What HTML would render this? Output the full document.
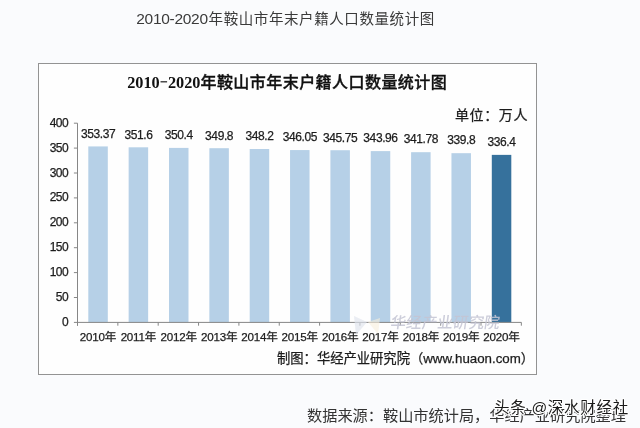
<!DOCTYPE html>
<html lang="zh-CN"><head><meta charset="utf-8"><title>2010-2020年鞍山市年末户籍人口数量统计图</title>
<style>
html,body{margin:0;padding:0;}
body{width:640px;height:428px;overflow:hidden;background:#fafbfd;position:relative;font-family:"Liberation Sans","Noto Sans CJK SC",sans-serif;}
svg{position:absolute;left:0;top:0;}
.yl{stroke:#1c1c1c;stroke-width:0.25px;letter-spacing:-0.6px;font:12px "Liberation Sans","Noto Sans CJK SC",sans-serif;fill:#1c1c1c;text-anchor:end;}
.vl{stroke:#1c1c1c;stroke-width:0.25px;letter-spacing:-0.4px;font:12px "Liberation Sans","Noto Sans CJK SC",sans-serif;fill:#1c1c1c;text-anchor:middle;}
.xl{stroke:#1c1c1c;stroke-width:0.25px;letter-spacing:-0.2px;font:11.6px "Liberation Sans","Noto Sans CJK SC",sans-serif;fill:#1c1c1c;text-anchor:middle;}
.ttc{font-size:14.5px;letter-spacing:0.58px;}
.ttd{font-size:15.5px;letter-spacing:-0.3px;}
.tt{font:15.1px "Liberation Sans","Noto Sans CJK SC",sans-serif;fill:#3a3a3a;}
.ct{font:bold 16.3px "Liberation Serif","Noto Serif CJK SC",serif;fill:#111;}
.ctc{font-family:"Noto Sans CJK SC",sans-serif;font-weight:500;stroke:#111;stroke-width:0.35px;font-size:16px;letter-spacing:0.45px;}
.un{stroke:#1c1c1c;stroke-width:0.25px;letter-spacing:0.6px;font:14px "Liberation Sans","Noto Sans CJK SC",sans-serif;fill:#1c1c1c;}
.srcl{}
.src{stroke:#1c1c1c;stroke-width:0.25px;font:13.3px "Liberation Sans","Noto Sans CJK SC",sans-serif;fill:#1c1c1c;}
.ds{font:15.2px "Liberation Sans","Noto Sans CJK SC",sans-serif;fill:#333;}
.wm{font:15.5px "Liberation Sans","Noto Sans CJK SC",sans-serif;fill:#1a1a1a;stroke:#fff;stroke-width:2.2px;stroke-linejoin:round;paint-order:stroke;letter-spacing:0.7px;}
.hj{font:15.5px "Liberation Sans","Noto Sans CJK SC",sans-serif;fill:#c4c5d4;opacity:0.85;letter-spacing:0.1px;font-weight:500;}
</style></head><body>
<svg width="640" height="428" viewBox="0 0 640 428">
<text y="24.4" class="tt"><tspan x="136.3" class="ttd">2010-2020</tspan><tspan x="208.6" class="ttc">年鞍山市年末户籍人口数量统计图</tspan></text>
<rect x="38.5" y="63.5" width="498" height="311" fill="#fefefe" stroke="#939393" stroke-width="1"/>
<text x="127.2" y="87.8" class="ct">2010<tspan style="font-family:IPAGothic,monospace;font-weight:400">-</tspan>2020<tspan class="ctc">年鞍山市年末户籍人口数量统计图</tspan></text>
<text x="455" y="120" class="un">单位：万人</text>
<rect x="88.30" y="146.42" width="19.5" height="175.98" fill="#b6d0e7"/>
<rect x="128.65" y="147.30" width="19.5" height="175.10" fill="#b6d0e7"/>
<rect x="169.00" y="147.90" width="19.5" height="174.50" fill="#b6d0e7"/>
<rect x="209.35" y="148.20" width="19.5" height="174.20" fill="#b6d0e7"/>
<rect x="249.70" y="149.00" width="19.5" height="173.40" fill="#b6d0e7"/>
<rect x="290.05" y="150.07" width="19.5" height="172.33" fill="#b6d0e7"/>
<rect x="330.40" y="150.22" width="19.5" height="172.18" fill="#b6d0e7"/>
<rect x="370.75" y="151.11" width="19.5" height="171.29" fill="#b6d0e7"/>
<rect x="411.10" y="152.19" width="19.5" height="170.21" fill="#b6d0e7"/>
<rect x="451.45" y="153.18" width="19.5" height="169.22" fill="#b6d0e7"/>
<rect x="491.80" y="154.87" width="19.5" height="167.53" fill="#36719c"/>
<path d="M77.5 123.20V325.70M77.0 322.4H521.4" stroke="#868686" stroke-width="1" fill="none"/>
<path d="M73.9 322.40H77.5M73.9 297.50H77.5M73.9 272.60H77.5M73.9 247.70H77.5M73.9 222.80H77.5M73.9 197.90H77.5M73.9 173.00H77.5M73.9 148.10H77.5M73.9 123.20H77.5M77.50 322.4V325.70M117.85 322.4V325.70M158.20 322.4V325.70M198.55 322.4V325.70M238.90 322.4V325.70M279.25 322.4V325.70M319.60 322.4V325.70M359.95 322.4V325.70M400.30 322.4V325.70M440.65 322.4V325.70M481.00 322.4V325.70M521.35 322.4V325.70" stroke="#868686" stroke-width="1" fill="none"/>
<text x="68" y="325.90" class="yl">0</text>
<text x="68" y="301.00" class="yl">50</text>
<text x="68" y="276.10" class="yl">100</text>
<text x="68" y="251.20" class="yl">150</text>
<text x="68" y="226.30" class="yl">200</text>
<text x="68" y="201.40" class="yl">250</text>
<text x="68" y="176.50" class="yl">300</text>
<text x="68" y="151.60" class="yl">350</text>
<text x="68" y="126.70" class="yl">400</text>
<text x="98.05" y="137.72" class="vl">353.37</text>
<text x="138.40" y="138.60" class="vl">351.6</text>
<text x="178.75" y="139.20" class="vl">350.4</text>
<text x="219.10" y="139.50" class="vl">349.8</text>
<text x="259.45" y="140.30" class="vl">348.2</text>
<text x="299.80" y="141.37" class="vl">346.05</text>
<text x="340.15" y="141.52" class="vl">345.75</text>
<text x="380.50" y="142.41" class="vl">343.96</text>
<text x="420.85" y="143.49" class="vl">341.78</text>
<text x="461.20" y="144.48" class="vl">339.8</text>
<text x="501.55" y="146.17" class="vl">336.4</text>
<text x="98.05" y="341.4" class="xl">2010年</text>
<text x="138.40" y="341.4" class="xl">2011年</text>
<text x="178.75" y="341.4" class="xl">2012年</text>
<text x="219.10" y="341.4" class="xl">2013年</text>
<text x="259.45" y="341.4" class="xl">2014年</text>
<text x="299.80" y="341.4" class="xl">2015年</text>
<text x="340.15" y="341.4" class="xl">2016年</text>
<text x="380.50" y="341.4" class="xl">2017年</text>
<text x="420.85" y="341.4" class="xl">2018年</text>
<text x="461.20" y="341.4" class="xl">2019年</text>
<text x="501.55" y="341.4" class="xl">2020年</text>
<polygon points="354,316 367,322 356,335" fill="#dfe3ec" opacity="0.65"/>
<polygon points="368,322 380,318 378,334" fill="#f6efdc" opacity="0.6"/>
<text x="0" y="0" class="hj" transform="translate(390 328.3) skewX(-8)">华经产业研究院</text>
<text x="277" y="363" class="src">制图：华经产业研究院（<tspan class="srcl">www.huaon.com</tspan>）</text>
<text x="307" y="420.5" class="ds">数据来源：鞍山市统计局，华经产业研究院整理</text>
<text x="494" y="413.3" class="wm">头条 @深水财经社</text>
</svg>
</body></html>
